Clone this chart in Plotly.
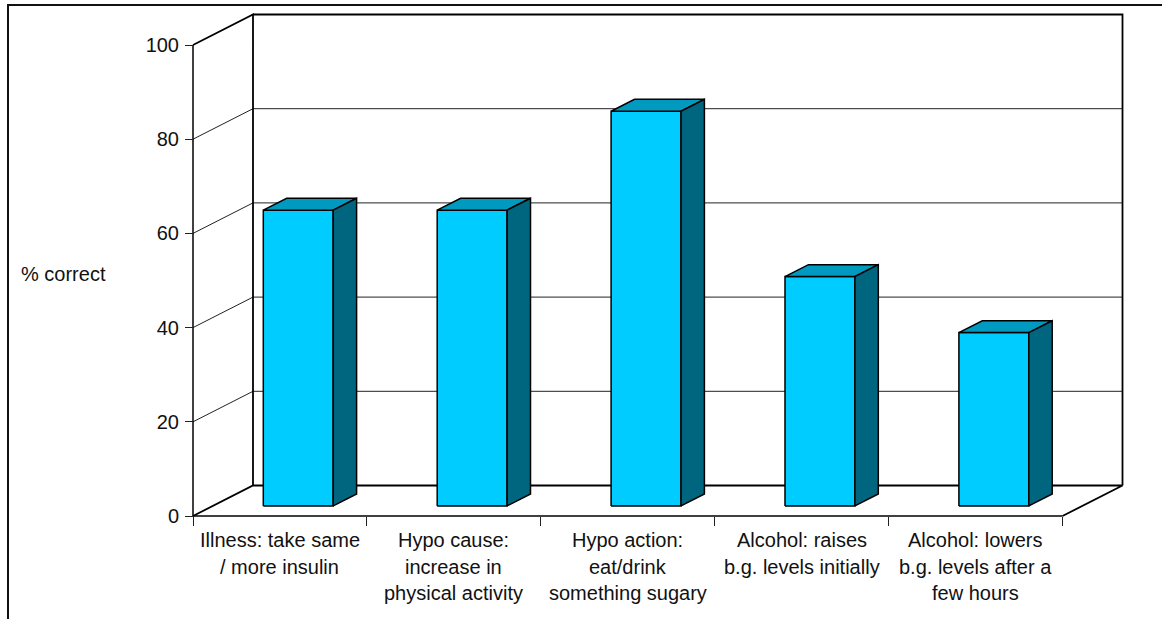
import plotly.graph_objects as go

categories = [
    ["Illness: take same", "/ more insulin"],
    ["Hypo cause:", "increase in", "physical activity"],
    ["Hypo action:", "eat/drink", "something sugary"],
    ["Alcohol: raises", "b.g. levels initially"],
    ["Alcohol: lowers", "b.g. levels after a", "few hours"],
]
percent_correct = [62.8, 62.8, 83.8, 48.7, 36.8]
y_ticks = [0, 20, 40, 60, 80, 100]
y_title = "% correct"

W, H = 1162, 619
X0_PX, X1_PX = 193, 1062.5
Y0_PX, Y100_PX = 516, 45
PX_PER_CAT = (X1_PX - X0_PX) / len(categories)
PX_PER_PCT = (Y0_PX - Y100_PX) / 100
DX = 60 / PX_PER_CAT      # floor depth, in category units
DY = 30.5 / PX_PER_PCT    # floor depth, in percent units
BAR_W = 0.402
D_FRONT, D_BACK = 0.33, 0.72
D_FRONT_X = 0.305
FRONT, TOP, SIDE = "#00CCFF", "#0099BF", "#006680"
LINE = "#000000"
FONT = "Liberation Sans"
FS = 20

fig = go.Figure()


def seg(xs, ys, width=1.0, color=LINE):
    fig.add_trace(go.Scatter(x=xs, y=ys, mode="lines", hoverinfo="skip",
                             line=dict(color=color, width=width)))


def poly(xs, ys, fill):
    fig.add_trace(go.Scatter(x=xs + xs[:1], y=ys + ys[:1], mode="lines", fill="toself",
                             fillcolor=fill, hoverinfo="skip",
                             line=dict(color=LINE, width=1.5)))


n = len(categories)
# gridlines on the side and back walls
for t in y_ticks[1:-1]:
    seg([0, DX, n + DX], [t, t + DY, t + DY], 1.0, "#222222")
# walls and floor
seg([0, DX, DX], [100, 100 + DY, DY], 1.8)
seg([DX, n + DX, n + DX], [100 + DY, 100 + DY, DY], 1.8)
seg([0, DX, n + DX, n], [0, DY, DY, 0], 1.8)
seg([0, 0], [0, 100], 1.5)
seg([0, n], [0, 0], 1.5)

# bars
for i, v in enumerate(percent_correct):
    xl = i + 0.5 - BAR_W / 2 + D_FRONT_X * DX
    xr = xl + BAR_W
    yb = D_FRONT * DY
    yt = v + yb
    ddx = (D_BACK - D_FRONT) * DX
    ddy = (D_BACK - D_FRONT) * DY
    poly([xl, xr, xr, xl], [yb, yb, yt, yt], FRONT)
    poly([xl, xr, xr + ddx, xl + ddx], [yt, yt, yt + ddy, yt + ddy], TOP)
    poly([xr, xr + ddx, xr + ddx, xr], [yb, yb + ddy, yt + ddy, yt], SIDE)

annotations = [dict(xref="paper", yref="paper", x=22 / W, y=1 - 274 / H, xanchor="left",
                    yanchor="middle", showarrow=False, text=y_title, xshift=-3,
                    font=dict(family=FONT, size=FS, color="#111111"))]
for i, lines in enumerate(categories):
    for j, line in enumerate(lines):
        annotations.append(dict(x=i + 0.5, y=0, xref="x", yref="y", xanchor="center", yanchor="middle",
                                yshift=-(540 + 26.5 * j - Y0_PX), showarrow=False, text=line,
                                font=dict(family=FONT, size=FS, color="#111111")))

fig.update_layout(
    width=W, height=H, autosize=False, showlegend=False,
    paper_bgcolor="white", plot_bgcolor="white",
    margin=dict(l=0, r=0, t=0, b=0),
    font=dict(family=FONT, size=FS, color="#111111"),
    annotations=annotations,
    shapes=[dict(type="path", xref="paper", yref="paper",
                 path=f"M {8/W} 0 L {8/W} {1-5/H} L 1 {1-5/H}",
                 line=dict(color="#111111", width=2))],
    xaxis=dict(range=[-X0_PX / PX_PER_CAT, (W - X0_PX) / PX_PER_CAT], showgrid=False, zeroline=False,
               showline=False, anchor="free", position=(H - Y0_PX) / H,
               tickmode="array", tickvals=list(range(n + 1)), ticktext=[""] * (n + 1),
               ticks="outside", ticklen=9, tickwidth=1, tickcolor="#222222"),
    yaxis=dict(range=[-(H - Y0_PX) / PX_PER_PCT, Y0_PX / PX_PER_PCT], showgrid=False, zeroline=False,
               showline=False, anchor="free", position=X0_PX / W,
               tickmode="array", tickvals=y_ticks, ticks="outside", ticklen=8, tickwidth=1,
               tickcolor="#222222", ticklabelstandoff=2),
)
fig.write_html("out.html", config=dict(displayModeBar=False),
               post_script="document.body.style.margin='0';document.body.style.overflow='hidden';")
